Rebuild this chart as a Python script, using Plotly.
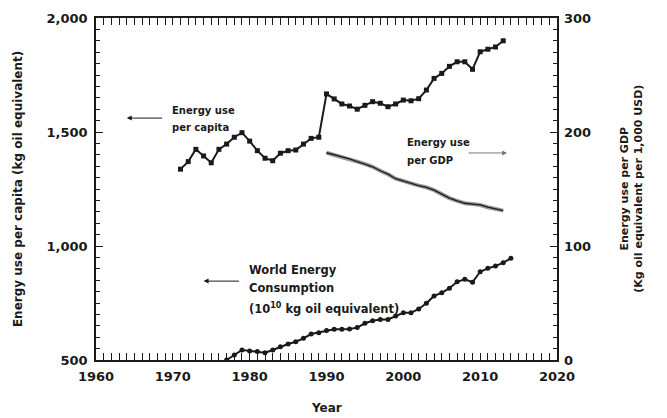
import plotly.graph_objects as go

# ---- data ----
years_capita = list(range(1971, 2014))
energy_per_capita = [1337, 1370, 1424, 1395, 1365, 1424, 1447, 1477, 1497, 1460,
                     1418, 1385, 1374, 1407, 1418, 1421, 1447, 1472, 1477, 1667,
                     1645, 1623, 1614, 1600, 1617, 1633, 1626, 1611, 1623, 1640,
                     1637, 1646, 1684, 1735, 1757, 1788, 1808, 1808, 1775, 1852,
                     1863, 1873, 1900]

years_gdp = list(range(1990, 2014))
energy_per_gdp = [181.8, 180.0, 178.5, 176.5, 174.0, 172.0, 169.5, 166.0, 163.0, 159.0,
                  157.0, 154.5, 153.0, 151.5, 149.0, 145.5, 142.0, 139.5, 137.5, 136.8,
                  136.0, 134.0, 132.5, 131.0]

years_world = list(range(1977, 2015))
world_consumption = [500, 522, 544, 540, 537, 532, 544, 558, 570, 580,
                     595, 614, 620, 629, 635, 635, 636, 642, 661, 672,
                     678, 678, 693, 707, 707, 724, 749, 781, 795, 815,
                     843, 854, 841, 887, 902, 912, 927, 946]

x_ticks = [1960, 1970, 1980, 1990, 2000, 2010, 2020]
y_ticks = [500, 1000, 1500, 2000]
y_tick_labels = ["500", "1,000", "1,500", "2,000"]
y2_ticks = [0, 100, 200, 300]

FONT = "DejaVu Sans"
INK = "#1a1a1a"

fig = go.Figure()

fig.add_trace(go.Scatter(
    x=years_capita, y=energy_per_capita, mode="lines+markers",
    line=dict(color=INK, width=2),
    marker=dict(symbol="square", size=5, color=INK),
    showlegend=False))

fig.add_trace(go.Scatter(
    x=years_world, y=world_consumption, mode="lines+markers",
    line=dict(color=INK, width=2),
    marker=dict(symbol="circle", size=5, color=INK),
    showlegend=False))

# halo then line for energy per GDP
fig.add_trace(go.Scatter(
    x=years_gdp, y=energy_per_gdp, mode="lines", yaxis="y2",
    line=dict(color="#9a9a9a", width=4), showlegend=False))
fig.add_trace(go.Scatter(
    x=years_gdp, y=energy_per_gdp, mode="lines", yaxis="y2",
    line=dict(color=INK, width=1.3), showlegend=False))

tick_font = dict(family=FONT, size=13, color=INK, weight="bold")

axis_common = dict(
    showline=True, linecolor=INK, linewidth=1.5, mirror="allticks",
    ticks="inside", ticklen=7, tickwidth=1.2, tickcolor=INK,
    showgrid=False, zeroline=False, tickfont=tick_font,
)

fig.update_layout(
    width=667, height=418,
    margin=dict(l=96, r=110, t=18, b=58),
    paper_bgcolor="white", plot_bgcolor="white",
    xaxis=dict(range=[1960, 2020], tickvals=x_ticks, ticklabelstandoff=4,
               minor=dict(dtick=1, ticklen=4, tickcolor=INK, ticks="inside"),
               **axis_common),
    yaxis=dict(range=[500, 2000], tickvals=y_ticks, ticktext=y_tick_labels,
               ticklabelstandoff=4,
               minor=dict(dtick=50, tick0=500, ticklen=4, tickcolor=INK, ticks="inside"),
               **axis_common),
    yaxis2=dict(range=[0, 300], tickvals=y2_ticks, overlaying="y", side="right",
                ticklabelstandoff=6,
                minor=dict(dtick=10, tick0=0, ticklen=4, tickcolor=INK, ticks="inside"),
                showline=False, ticks="inside", ticklen=7, tickwidth=1.2, tickcolor=INK,
                showgrid=False, zeroline=False, tickfont=tick_font),
)

lab_font = dict(family=FONT, size=10, color=INK, weight="bold")
world_font = dict(family=FONT, size=11.5, color=INK, weight="bold")
title_font = dict(family=FONT, size=12, color=INK, weight="bold")
title2_font = dict(family=FONT, size=11, color=INK, weight="bold")


def label(text, x, y, font):
    return dict(text=text, x=x, y=y, xanchor="left", yanchor="middle",
                align="left", showarrow=False, font=font)


def arrow(x_head, x_tail, y, color):
    return dict(text="", x=x_head, y=y, ax=x_tail, ay=y, axref="x", ayref="y",
                showarrow=True, arrowhead=2, arrowsize=1, arrowwidth=1, arrowcolor=color)


ann = [
    # axis titles
    dict(text="Energy use per capita (kg oil equivalent)", xref="paper", yref="paper",
         x=-0.169, y=0.5, xanchor="center", yanchor="middle", textangle=-90,
         showarrow=False, font=title_font),
    dict(text="Energy use per GDP<br>(Kg oil equivalent per 1,000 USD)", xref="paper", yref="paper",
         x=1.16, y=0.5, xanchor="center", yanchor="middle", textangle=-90,
         showarrow=False, font=title2_font),
    dict(text="Year", xref="paper", yref="paper", x=0.5, y=-0.14,
         xanchor="center", yanchor="middle", showarrow=False, font=title_font),
    # series labels
    label("Energy use", 1969.6, 1596, lab_font),
    label("per capita", 1969.6, 1518, lab_font),
    arrow(1964.0, 1968.8, 1561, INK),
    label("Energy use", 2000.2, 1452, lab_font),
    label("per GDP", 2000.2, 1377, lab_font),
    arrow(2013.5, 2008.3, 1408, "#777777"),
    label("World Energy", 1979.6, 895, world_font),
    label("Consumption", 1979.6, 816, world_font),
    label("(10<sup>10</sup> kg oil equivalent)", 1979.6, 728, world_font),
    arrow(1974.0, 1978.8, 846, INK),
]
fig.update_layout(annotations=ann)

fig.write_html("out.html", config={"displayModeBar": False},
               post_script="document.body.style.margin='0px';document.body.style.overflow='hidden';")
